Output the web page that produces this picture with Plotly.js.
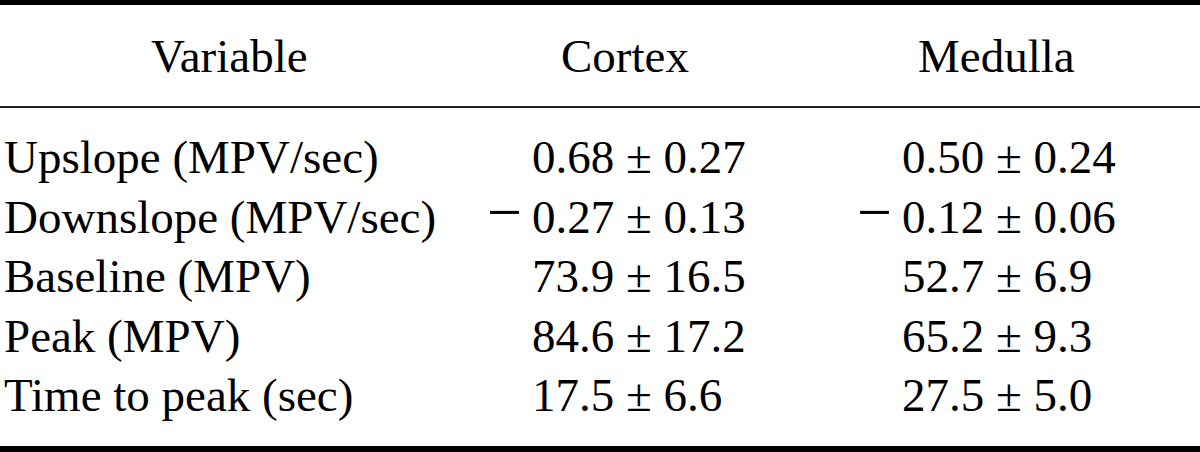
<!DOCTYPE html>
<html>
<head>
<meta charset="utf-8">
<script src="https://cdn.plot.ly/plotly-3.0.1.min.js"></script>
<style>html,body{margin:0;padding:0;background:#fff;}#chart{width:1200px;height:452px;}</style>
</head>
<body>
<div id="chart"></div>
<script>
const headers = ["Variable", "Cortex", "Medulla"];
const variables = ["Upslope (MPV/sec)", "Downslope (MPV/sec)", "Baseline (MPV)", "Peak (MPV)", "Time to peak (sec)"];
const cortex = ["0.68 ± 0.27", "\u22120.27 ± 0.13", "73.9 ± 16.5", "84.6 ± 17.2", "17.5 ± 6.6"];
const medulla = ["0.50 ± 0.24", "\u22120.12 ± 0.06", "52.7 ± 6.9", "65.2 ± 9.3", "27.5 ± 5.0"];

const FAMILY = "'Liberation Serif', 'Times New Roman', serif";
const FONT = {family: FAMILY, size: 47, color: "#000"};
const MINUS_FONT = {family: FAMILY, size: 62, color: "#000"};
const rowY0 = 157, rowStep = 59.5, headerY = 56;
const colX = [2, 530, 900];
const headerX = [229, 625, 996];

const annotations = [];
headers.forEach((h, j) => annotations.push({
  x: headerX[j], y: headerY, xref: "x", yref: "y", text: h, showarrow: false,
  xanchor: "center", yanchor: "middle", font: FONT
}));
[variables, cortex, medulla].forEach((col, j) => col.forEach((t, i) => {
  const y = rowY0 + rowStep * i;
  let body = t;
  if (t.startsWith("\u2212")) {
    body = t.slice(1);
    annotations.push({
      x: colX[j] - 6, y: y - 5, xref: "x", yref: "y", text: "\u2212", showarrow: false,
      xanchor: "right", yanchor: "middle", font: MINUS_FONT
    });
  }
  annotations.push({
    x: colX[j], y: y, xref: "x", yref: "y", text: body, showarrow: false,
    xanchor: "left", yanchor: "middle", font: FONT
  });
}));

const shapes = [
  {type: "rect", xref: "x", yref: "y", x0: 0, x1: 1200, y0: 0, y1: 5, fillcolor: "#000", line: {width: 0}},
  {type: "rect", xref: "x", yref: "y", x0: 0, x1: 1200, y0: 106, y1: 108, fillcolor: "#222", line: {width: 0}},
  {type: "rect", xref: "x", yref: "y", x0: 0, x1: 1200, y0: 446, y1: 452, fillcolor: "#000", line: {width: 0}}
];

Plotly.newPlot("chart", [], {
  width: 1200, height: 452,
  margin: {l: 0, r: 0, t: 0, b: 0},
  paper_bgcolor: "#fff", plot_bgcolor: "#fff",
  xaxis: {range: [0, 1200], visible: false, fixedrange: true},
  yaxis: {range: [452, 0], visible: false, fixedrange: true},
  showlegend: false,
  annotations: annotations,
  shapes: shapes
}, {staticPlot: true});
</script>
</body>
</html>
